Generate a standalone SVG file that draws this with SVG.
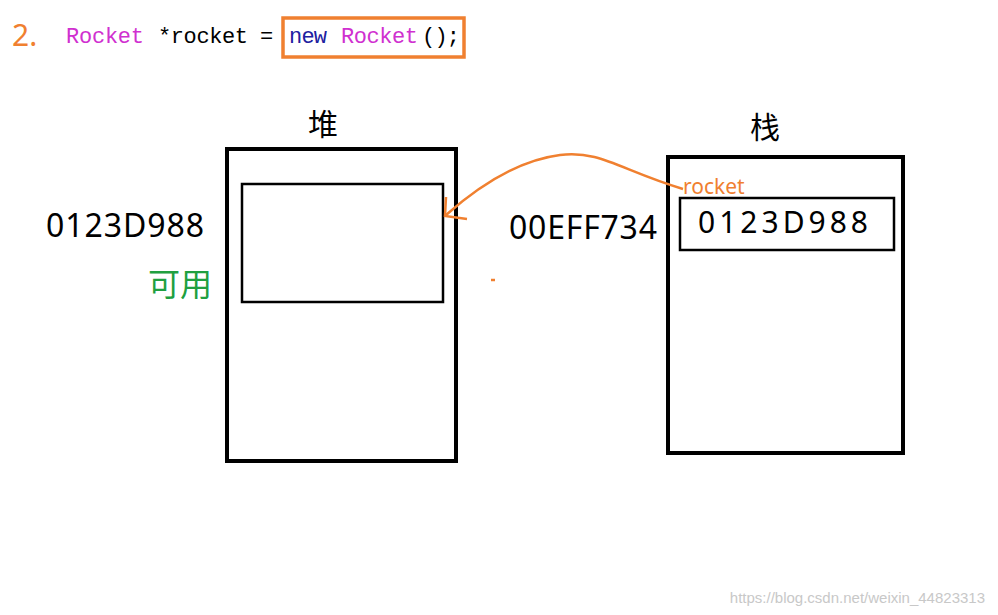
<svg xmlns="http://www.w3.org/2000/svg" width="998" height="615" viewBox="0 0 998 615">
<style>
.box{fill:none;stroke:#000;stroke-width:4}
.inner{fill:none;stroke:#000;stroke-width:2.5}
.code{font-family:"Liberation Mono","Noto Sans CJK SC",monospace;font-size:22px}
.t{font-family:"Noto Sans","Noto Sans CJK SC",sans-serif;fill:#000}
.o{stroke:#f08030;fill:none;stroke-width:2.5}
</style>
<rect width="998" height="615" fill="#fff"/>
<text x="12" y="46" font-family="Noto Sans, sans-serif" font-size="30" fill="#f08030">2.</text>
<text y="43" class="code"><tspan x="66" fill="#d030d0" textLength="78">Rocket</tspan><tspan x="158" fill="#000" textLength="90">*rocket</tspan><tspan x="260" fill="#000">=</tspan><tspan x="289" fill="#2020a0" textLength="38">new</tspan><tspan x="341" fill="#d030d0" textLength="77">Rocket</tspan><tspan x="422" fill="#000" textLength="38">();</tspan></text>
<rect x="283" y="18" width="181" height="39" fill="none" stroke="#f08030" stroke-width="3.5"/>
<g id="heap">
<text x="323" y="135" class="t" font-size="30" text-anchor="middle" font-family="Noto Sans CJK SC,sans-serif">堆</text>
<rect x="227" y="149" width="229" height="312" class="box"/>
<rect x="242" y="184" width="201" height="118" class="inner"/>
<text x="46" y="237" class="t" font-size="32" textLength="158">0123D988</text>
<text x="148" y="296" font-family="Noto Sans CJK SC,sans-serif" font-size="32" fill="#20a040">可用</text>
</g>
<g id="stack">
<text x="765" y="138" class="t" font-size="30" text-anchor="middle" font-family="Noto Sans CJK SC,sans-serif">栈</text>
<rect x="668" y="157" width="235" height="296" class="box"/>
<rect x="680" y="198" width="214" height="52" class="inner"/>
<text x="698" y="233" class="t" font-size="30" textLength="170">0123D988</text>
<text x="683" y="194" font-family="Noto Sans, sans-serif" font-size="21" fill="#f08030">rocket</text>
<text x="509" y="239" class="t" font-size="32" textLength="148">00EFF734</text>
</g>
<g id="connectors">
<path class="o" d="M683 189 C620 170 600 150 560 155 C520 160 480 185 446 215"/>
<path class="o" d="M446 197 L445 216 L467 219"/>
<line x1="491" y1="280" x2="495" y2="280" stroke="#f08030" stroke-width="2.5"/>
</g>
<text x="985" y="603" font-family="Liberation Sans, sans-serif" font-size="15" fill="#c8c8c8" text-anchor="end">https://blog.csdn.net/weixin_44823313</text>
</svg>
